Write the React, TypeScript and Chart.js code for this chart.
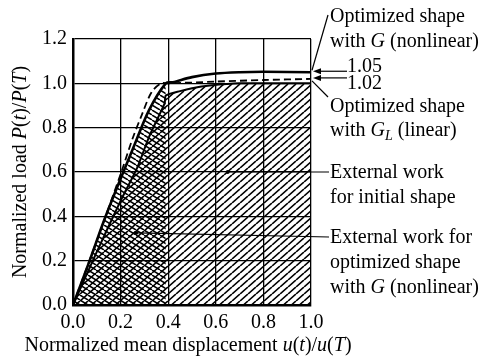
import React, { useEffect, useRef } from "react";
import { Chart, registerables } from "chart.js";

Chart.register(...registerables);

// ---- data ----
const xRange = [0, 1.0];
const yRange = [0, 1.2];
const tickStep = 0.2;

// Optimized shape with G (nonlinear) — solid outer curve
const optGX = [0, 0.07, 0.13, 0.2, 0.25, 0.32, 0.39, 0.42, 0.5, 0.6, 0.7, 0.8, 1.0];
const optGY = [0, 0.2, 0.38, 0.57, 0.7, 0.88, 1.0, 1.005, 1.028, 1.044, 1.05, 1.052, 1.05];

// Optimized shape with G_L (linear) — dashed curve
const optGLX = [0, 0.1, 0.2, 0.25, 0.29, 0.33, 0.37, 0.4, 0.6, 0.8, 1.0];
const optGLY = [0, 0.29, 0.59, 0.75, 0.86, 0.96, 1.0, 1.0, 1.008, 1.015, 1.02];

// Initial shape — inner solid curve
const initX = [0, 0.1, 0.2, 0.27, 0.32, 0.385, 0.39, 0.45, 0.5, 0.575, 0.7, 1.0];
const initY = [0, 0.24, 0.47, 0.62, 0.76, 0.91, 0.945, 0.965, 0.978, 0.99, 1.0, 1.0];

// x-extent of the external-work region of the optimized shape
const optWorkEnd = 0.39;

// pointer positions (data coords) for the two "External work" labels
const initWorkPointer = [0.65, 0.6];
const optWorkPointer = [0.265, 0.325];

// values marked by arrows at the right edge
const markedG = 1.05;
const markedGL = 1.02;

const FONT = "'Liberation Serif', 'Times New Roman', serif";

type Seg = { t: string; i?: boolean; sub?: boolean };

function pts(xs: number[], ys: number[]) {
  return xs.map((x, k) => ({ x, y: ys[k] }));
}

function makePattern(w: number, h: number, dir: 1 | -1, lw: number) {
  const c = document.createElement("canvas");
  c.width = w;
  c.height = h;
  const g = c.getContext("2d")!;
  g.strokeStyle = "#000";
  g.lineWidth = lw;
  g.beginPath();
  if (dir === 1) {
    for (const off of [-w, 0, w]) {
      g.moveTo(off, h);
      g.lineTo(off + w, 0);
    }
  } else {
    for (const off of [-w, 0, w]) {
      g.moveTo(off, 0);
      g.lineTo(off + w, h);
    }
  }
  g.stroke();
  const ctx = document.createElement("canvas").getContext("2d")!;
  return ctx.createPattern(c, "repeat")!;
}

function richWidth(ctx: CanvasRenderingContext2D, segs: Seg[], size: number) {
  let w = 0;
  for (const s of segs) {
    const sz = s.sub ? size * 0.7 : size;
    ctx.font = `${s.i ? "italic " : ""}${sz}px ${FONT}`;
    w += ctx.measureText(s.t).width;
  }
  return w;
}

function drawRich(ctx: CanvasRenderingContext2D, segs: Seg[], x: number, y: number, size: number) {
  let cx = x;
  ctx.textBaseline = "alphabetic";
  ctx.textAlign = "left";
  for (const s of segs) {
    const sz = s.sub ? size * 0.7 : size;
    ctx.font = `${s.i ? "italic " : ""}${sz}px ${FONT}`;
    ctx.fillText(s.t, cx, s.sub ? y + size * 0.22 : y);
    cx += ctx.measureText(s.t).width;
  }
}

function arrowLeft(ctx: CanvasRenderingContext2D, tipX: number, y: number, fromX: number) {
  ctx.beginPath();
  ctx.moveTo(tipX + 5, y);
  ctx.lineTo(fromX, y);
  ctx.stroke();
  ctx.beginPath();
  ctx.moveTo(tipX, y);
  ctx.lineTo(tipX + 8, y - 3);
  ctx.lineTo(tipX + 8, y + 3);
  ctx.closePath();
  ctx.fill();
}

const annotationPlugin = {
  id: "annot",
  afterDraw(chart: any) {
    const ctx: CanvasRenderingContext2D = chart.ctx;
    const xs = chart.scales.x;
    const ys = chart.scales.y;
    const ca = chart.chartArea;
    const size = 20;
    const tx = ca.right + 19;
    ctx.save();
    ctx.fillStyle = "#000";
    ctx.strokeStyle = "#000";
    ctx.lineWidth = 1.2;

    const rx = xs.getPixelForValue(xRange[1]);
    const yG = ys.getPixelForValue(markedG);
    const yGL = ys.getPixelForValue(markedGL);

    drawRich(ctx, [{ t: "Optimized shape" }], tx, 22, size);
    drawRich(ctx, [{ t: "with " }, { t: "G", i: true }, { t: " (nonlinear)" }], tx, 47, size);
    ctx.beginPath();
    ctx.moveTo(rx + 1, yG - 2);
    ctx.lineTo(tx - 2, 15);
    ctx.stroke();

    arrowLeft(ctx, rx + 2, yG - 1, tx + 17);
    arrowLeft(ctx, rx + 2, yGL - 1, tx + 17);
    drawRich(ctx, [{ t: "1.05" }], tx + 17, yG + 0, size);
    drawRich(ctx, [{ t: "1.02" }], tx + 17, yGL + 10, size);

    ctx.beginPath();
    ctx.moveTo(rx + 1, yGL + 2);
    ctx.lineTo(tx - 2, 97);
    ctx.stroke();
    drawRich(ctx, [{ t: "Optimized shape" }], tx, 112, size);
    drawRich(
      ctx,
      [{ t: "with " }, { t: "G", i: true }, { t: "L", i: true, sub: true }, { t: " (linear)" }],
      tx,
      136,
      size
    );

    const p1x = xs.getPixelForValue(initWorkPointer[0]);
    const p1y = ys.getPixelForValue(initWorkPointer[1]);
    ctx.beginPath();
    ctx.moveTo(p1x, p1y);
    ctx.lineTo(tx - 1, p1y);
    ctx.stroke();
    ctx.beginPath();
    ctx.arc(p1x, p1y, 2, 0, Math.PI * 2);
    ctx.fill();
    drawRich(ctx, [{ t: "External work" }], tx, 178, size);
    drawRich(ctx, [{ t: "for initial shape" }], tx, 203, size);

    const p2x = xs.getPixelForValue(optWorkPointer[0]);
    const p2y = ys.getPixelForValue(optWorkPointer[1]);
    ctx.beginPath();
    ctx.moveTo(p2x, p2y);
    ctx.lineTo(tx - 1, 237);
    ctx.stroke();
    ctx.beginPath();
    ctx.arc(p2x, p2y, 2, 0, Math.PI * 2);
    ctx.fill();
    drawRich(ctx, [{ t: "External work for" }], tx, 243, size);
    drawRich(ctx, [{ t: "optimized shape" }], tx, 268, size);
    drawRich(ctx, [{ t: "with " }, { t: "G", i: true }, { t: " (nonlinear)" }], tx, 293, size);

    const xt: Seg[] = [
      { t: "Normalized mean displacement " },
      { t: "u", i: true },
      { t: "(" },
      { t: "t", i: true },
      { t: ")/" },
      { t: "u", i: true },
      { t: "(" },
      { t: "T", i: true },
      { t: ")" },
    ];
    const xw = richWidth(ctx, xt, size);
    const xc = (ca.left + ca.right) / 2 - 4;
    drawRich(ctx, xt, xc - xw / 2, 351, size);

    const yt: Seg[] = [
      { t: "Normalized load " },
      { t: "P", i: true },
      { t: "(" },
      { t: "t", i: true },
      { t: ")/" },
      { t: "P", i: true },
      { t: "(" },
      { t: "T", i: true },
      { t: ")" },
    ];
    const yw = richWidth(ctx, yt, size);
    const yc = (ca.top + ca.bottom) / 2;
    ctx.translate(26, yc);
    ctx.rotate(-Math.PI / 2);
    drawRich(ctx, yt, -yw / 2, 0, size);
    ctx.restore();
  },
};

export default function App() {
  const ref = useRef<HTMLCanvasElement>(null);

  useEffect(() => {
    const canvas = ref.current!;
    const hatchInit = makePattern(8, 7, 1, 1.6);
    const hatchOpt = makePattern(8, 5, -1, 1.5);

    const optRegion = pts(optGX, optGY).filter((p) => p.x <= optWorkEnd);
    optRegion.push({ x: optWorkEnd, y: 0 });

    const chart = new Chart(canvas, {
      type: "line",
      data: {
        datasets: [
          {
            label: "Optimized shape with G (nonlinear)",
            data: pts(optGX, optGY),
            borderColor: "#000",
            borderWidth: 2.6,
            pointRadius: 0,
            fill: false,
            tension: 0.3,
          },
          {
            label: "Optimized shape with GL (linear)",
            data: pts(optGLX, optGLY),
            borderColor: "#000",
            borderWidth: 1.8,
            borderDash: [7, 4],
            pointRadius: 0,
            fill: false,
            tension: 0.3,
          },
          {
            label: "Initial shape",
            data: pts(initX, initY),
            borderColor: "#000",
            borderWidth: 2,
            pointRadius: 0,
            fill: false,
            tension: 0.2,
          },
          {
            label: "External work for optimized shape",
            data: optRegion,
            borderWidth: 0,
            borderColor: "rgba(0,0,0,0)",
            backgroundColor: hatchOpt,
            pointRadius: 0,
            fill: "origin",
            tension: 0,
          },
          {
            label: "External work for initial shape",
            data: pts(initX, initY),
            borderWidth: 0,
            borderColor: "rgba(0,0,0,0)",
            backgroundColor: hatchInit,
            pointRadius: 0,
            fill: "origin",
            tension: 0.2,
          },
        ],
      },
      options: {
        responsive: false,
        animation: false,
        devicePixelRatio: 1,
        layout: { padding: { left: 0, top: 39, right: 180, bottom: 0 } },
        plugins: { legend: { display: false }, tooltip: { enabled: false } },
        scales: {
          x: {
            type: "linear",
            min: xRange[0],
            max: xRange[1],
            ticks: {
              stepSize: tickStep,
              color: "#000",
              font: { family: FONT, size: 20 },
              padding: 6,
              maxRotation: 0,
              callback: (v: any) => Number(v).toFixed(1),
            },
            grid: { color: "#000", lineWidth: 1.3, drawTicks: false },
            border: { display: true, color: "#000", width: 2.5 },
            afterFit: (s: any) => {
              s.height = 52;
            },
          },
          y: {
            type: "linear",
            min: yRange[0],
            max: yRange[1],
            ticks: {
              stepSize: tickStep,
              color: "#000",
              font: { family: FONT, size: 20 },
              padding: 6,
              callback: (v: any) => Number(v).toFixed(1),
            },
            grid: { color: "#000", lineWidth: 1.3, drawTicks: false },
            border: { display: true, color: "#000", width: 2.5 },
            afterFit: (s: any) => {
              s.width = 73;
            },
          },
        },
      },
      plugins: [annotationPlugin],
    });
    return () => chart.destroy();
  }, []);

  return (
    <div style={{ position: "fixed", left: 0, top: 0, width: 491, height: 357, background: "#fff" }}>
      <canvas ref={ref} width={491} height={357} style={{ width: 491, height: 357, display: "block" }} />
    </div>
  );
}
